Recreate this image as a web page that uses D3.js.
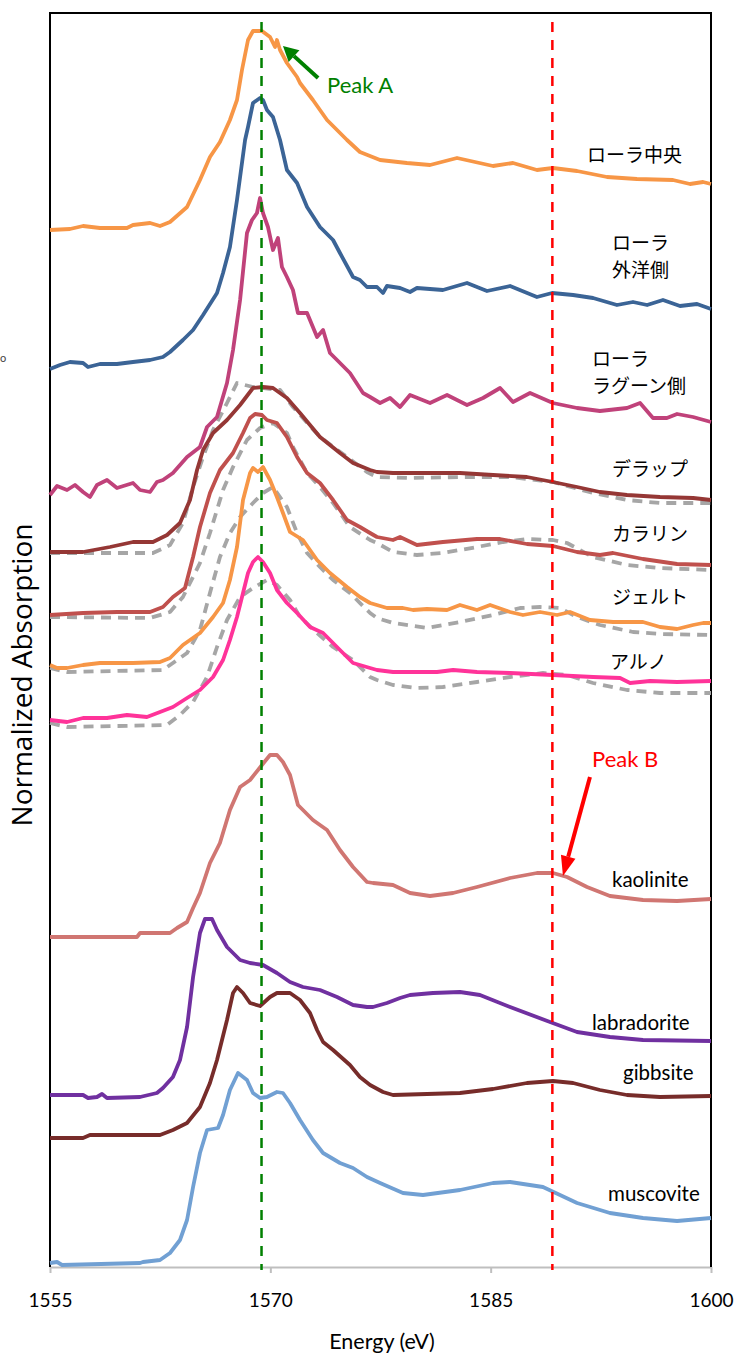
<!DOCTYPE html>
<html>
<head>
<meta charset="utf-8">
<script src="https://cdn.jsdelivr.net/npm/d3@7"></script>
<style>
  body { margin: 0; background: #fff; }
  svg text { font-family: Lato, "Liberation Sans", sans-serif; }
  .jp { font-family: "Noto Sans CJK JP", sans-serif; }
</style>
</head>
<body>
<div id="chart"></div>
<script>
// Energy axis ticks (eV)
const xTicks = [1555, 1570, 1585, 1600];

// Spectra, stacked with offsets: [energy (eV), normalized absorption + offset]
const loraCenter = [[1555.0,10.37],[1556.36,10.38],[1557.25,10.41],[1558.40,10.39],[1560.24,10.39],[1560.65,10.42],[1561.81,10.44],[1562.49,10.41],[1563.17,10.45],[1564.33,10.60],[1565.21,10.87],[1565.89,11.10],[1566.57,11.25],[1567.25,11.47],[1567.73,11.67],[1568.07,11.97],[1568.48,12.27],[1568.82,12.36],[1569.43,12.36],[1569.98,12.30],[1570.32,12.20],[1570.45,12.27],[1570.66,12.17],[1571.13,12.04],[1571.82,11.90],[1572.02,11.84],[1572.90,11.67],[1573.86,11.47],[1575.22,11.27],[1576.10,11.15],[1577.47,11.07],[1579.30,11.04],[1580.87,11.02],[1582.71,11.09],[1585.16,11.01],[1586.52,11.04],[1588.15,10.97],[1589.24,10.99],[1590.88,10.96],[1592.92,10.90],[1594.96,10.88],[1597.41,10.87],[1598.57,10.83],[1599.46,10.85],[1600,10.83]];

const loraOcean = [[1555.0,8.98],[1555.68,9.02],[1556.36,9.05],[1557.25,9.04],[1557.59,9.00],[1558.40,9.03],[1559.56,9.03],[1560.65,9.05],[1561.81,9.07],[1562.69,9.10],[1563.17,9.15],[1564.05,9.27],[1564.74,9.37],[1565.42,9.52],[1566.37,9.74],[1566.78,9.94],[1567.25,10.20],[1567.73,10.67],[1568.28,11.27],[1568.48,11.40],[1568.82,11.64],[1569.30,11.69],[1569.50,11.67],[1569.77,11.57],[1570.18,11.50],[1570.66,11.27],[1571.13,10.97],[1571.82,10.84],[1572.50,10.60],[1573.38,10.40],[1574.27,10.27],[1574.74,10.14],[1575.63,9.90],[1576.10,9.87],[1576.58,9.80],[1577.26,9.80],[1577.67,9.74],[1577.94,9.81],[1578.83,9.79],[1579.51,9.75],[1579.98,9.79],[1581.75,9.77],[1583.39,9.84],[1584.75,9.76],[1586.32,9.81],[1588.15,9.70],[1589.18,9.74],[1590.61,9.72],[1591.97,9.69],[1593.60,9.62],[1594.69,9.65],[1595.65,9.62],[1596.73,9.67],[1597.89,9.61],[1599.05,9.63],[1600,9.58]];

const loraLagoon = [[1555.0,7.72],[1555.48,7.81],[1556.16,7.77],[1556.70,7.82],[1557.25,7.75],[1557.72,7.70],[1558.20,7.82],[1558.88,7.87],[1559.56,7.79],[1560.65,7.84],[1561.13,7.77],[1561.81,7.75],[1562.28,7.85],[1562.69,7.87],[1563.37,7.94],[1564.33,8.10],[1565.21,8.20],[1565.69,8.40],[1566.37,8.50],[1567.05,8.84],[1567.46,9.17],[1567.94,9.67],[1568.41,10.34],[1568.75,10.47],[1569.09,10.54],[1569.30,10.69],[1569.50,10.54],[1569.84,10.40],[1570.18,10.17],[1570.52,10.29],[1570.79,10.00],[1571.13,9.90],[1571.54,9.77],[1571.88,9.54],[1572.50,9.54],[1573.18,9.30],[1573.59,9.37],[1574.06,9.14],[1574.54,9.07],[1575.42,8.94],[1576.31,8.74],[1576.79,8.70],[1577.47,8.64],[1578.15,8.69],[1578.83,8.60],[1579.51,8.72],[1580.87,8.64],[1582.03,8.72],[1583.39,8.62],[1584.48,8.69],[1585.64,8.79],[1586.52,8.65],[1587.68,8.74],[1589.24,8.64],[1590.88,8.59],[1592.44,8.56],[1594.28,8.59],[1595.17,8.64],[1596.05,8.49],[1597.00,8.49],[1597.69,8.53],[1598.78,8.50],[1600,8.45]];

const delap = [[1555.0,7.15],[1557.25,7.15],[1559.08,7.20],[1560.65,7.25],[1562.01,7.25],[1562.97,7.32],[1563.85,7.44],[1564.53,7.67],[1565.01,7.97],[1565.42,8.17],[1566.10,8.34],[1567.05,8.47],[1567.94,8.62],[1568.82,8.79],[1569.50,8.80],[1570.18,8.79],[1571.13,8.69],[1572.02,8.54],[1573.38,8.30],[1574.74,8.14],[1575.63,8.04],[1576.79,7.97],[1577.26,7.95],[1578.35,7.94],[1580.67,7.94],[1582.91,7.94],[1585.16,7.92],[1587.47,7.90],[1589.24,7.85],[1590.88,7.80],[1592.44,7.75],[1594.28,7.72],[1596.53,7.70],[1598.78,7.69],[1600,7.67]];
const delapRef = [[1555.0,7.14],[1562.01,7.14],[1563.17,7.22],[1564.05,7.44],[1564.74,7.80],[1565.42,8.10],[1566.10,8.37],[1567.05,8.64],[1567.73,8.84],[1568.82,8.80],[1570.66,8.77],[1571.54,8.60],[1573.38,8.30],[1575.22,8.10],[1576.58,7.95],[1577.26,7.90],[1579.51,7.89],[1582.91,7.90],[1586.32,7.90],[1589.24,7.85],[1591.97,7.74],[1594.28,7.67],[1596.53,7.64],[1600,7.64]];

const karalin = [[1555.0,6.52],[1557.25,6.54],[1559.56,6.55],[1561.81,6.55],[1562.69,6.60],[1563.37,6.70],[1564.19,6.79],[1564.74,7.10],[1565.21,7.40],[1565.89,7.74],[1566.57,7.97],[1567.46,8.14],[1568.14,8.34],[1568.62,8.49],[1568.96,8.53],[1569.43,8.52],[1569.77,8.47],[1570.45,8.44],[1571.13,8.30],[1571.82,8.10],[1572.50,7.94],[1573.38,7.84],[1574.27,7.67],[1575.22,7.47],[1576.10,7.40],[1576.79,7.34],[1577.26,7.30],[1578.35,7.27],[1578.83,7.30],[1579.98,7.22],[1581.75,7.25],[1584.07,7.28],[1585.64,7.28],[1587.47,7.23],[1589.24,7.21],[1590.88,7.15],[1592.44,7.12],[1593.33,7.14],[1595.37,7.08],[1597.69,7.03],[1600,7.02]];
const karalinRef = [[1555.0,6.50],[1561.81,6.49],[1563.17,6.55],[1564.05,6.70],[1565.21,7.04],[1565.89,7.34],[1566.78,7.77],[1567.46,8.00],[1568.41,8.27],[1569.30,8.39],[1570.18,8.44],[1571.13,8.34],[1571.54,8.20],[1572.50,7.94],[1573.38,7.80],[1574.27,7.64],[1575.42,7.40],[1576.79,7.27],[1577.26,7.24],[1578.35,7.15],[1579.98,7.12],[1581.75,7.14],[1584.07,7.20],[1585.84,7.25],[1587.47,7.28],[1589.24,7.27],[1590.20,7.24],[1591.97,7.10],[1594.28,7.02],[1596.53,6.99],[1600,6.97]];

const jeldrik = [[1555.0,6.02],[1555.48,5.99],[1556.16,5.99],[1557.25,6.02],[1558.40,6.04],[1560.65,6.04],[1562.49,6.05],[1563.17,6.09],[1564.05,6.22],[1565.21,6.34],[1566.10,6.50],[1566.78,6.64],[1567.25,6.87],[1567.73,7.20],[1568.14,7.67],[1568.62,7.94],[1568.82,7.99],[1569.16,7.95],[1569.50,8.00],[1569.98,7.87],[1570.45,7.70],[1570.86,7.54],[1571.34,7.35],[1572.22,7.27],[1573.18,7.07],[1574.06,6.94],[1575.22,6.80],[1576.10,6.70],[1576.79,6.64],[1577.94,6.59],[1579.03,6.59],[1579.71,6.57],[1580.67,6.58],[1582.03,6.57],[1582.91,6.62],[1584.07,6.57],[1584.96,6.62],[1586.32,6.55],[1587.20,6.52],[1588.36,6.55],[1589.52,6.52],[1590.40,6.55],[1591.76,6.47],[1593.33,6.45],[1595.37,6.45],[1596.53,6.40],[1597.69,6.38],[1598.78,6.42],[1599.46,6.44],[1600,6.44]];
const jeldrikRef = [[1555.0,5.99],[1556.16,5.95],[1562.69,5.97],[1563.37,6.04],[1564.33,6.14],[1565.21,6.37],[1565.89,6.74],[1566.57,7.10],[1567.25,7.34],[1567.94,7.50],[1568.82,7.64],[1569.50,7.74],[1570.18,7.80],[1571.13,7.60],[1571.82,7.34],[1572.50,7.14],[1573.38,7.00],[1574.27,6.87],[1575.42,6.74],[1576.79,6.54],[1577.26,6.49],[1578.35,6.44],[1580.67,6.39],[1582.91,6.45],[1585.16,6.52],[1587.00,6.59],[1588.36,6.60],[1589.72,6.59],[1590.88,6.50],[1592.44,6.42],[1594.69,6.35],[1596.53,6.33],[1600,6.32]];

const arno = [[1555.0,5.47],[1556.16,5.45],[1557.25,5.49],[1558.88,5.49],[1560.24,5.52],[1561.60,5.50],[1562.49,5.55],[1563.37,5.60],[1564.33,5.69],[1565.21,5.77],[1566.10,5.90],[1566.78,6.07],[1567.25,6.27],[1567.73,6.50],[1568.14,6.74],[1568.48,6.94],[1568.82,7.05],[1569.16,7.10],[1569.50,7.05],[1569.98,6.94],[1570.45,6.77],[1571.13,6.64],[1571.82,6.54],[1572.70,6.40],[1573.59,6.34],[1574.74,6.17],[1575.63,6.04],[1576.79,5.99],[1577.26,5.97],[1578.35,5.95],[1581.35,5.95],[1582.44,5.97],[1584.07,5.95],[1586.32,5.94],[1589.24,5.92],[1591.97,5.90],[1593.81,5.89],[1594.49,5.84],[1595.85,5.86],[1597.69,5.85],[1600,5.86]];
const arnoRef = [[1555.0,5.44],[1556.16,5.40],[1562.97,5.42],[1563.85,5.52],[1564.74,5.65],[1565.69,5.90],[1566.37,6.20],[1567.05,6.47],[1567.94,6.70],[1568.82,6.79],[1569.77,6.87],[1570.45,6.82],[1571.34,6.67],[1572.02,6.50],[1573.18,6.34],[1574.27,6.20],[1575.63,6.07],[1576.79,5.90],[1577.26,5.87],[1578.35,5.82],[1579.98,5.79],[1581.75,5.80],[1584.07,5.85],[1586.32,5.90],[1588.56,5.94],[1590.20,5.92],[1591.97,5.84],[1594.28,5.77],[1596.53,5.74],[1600,5.74]];

const kaolinite = [[1555.0,3.30],[1560.92,3.30],[1561.13,3.34],[1563.17,3.34],[1563.65,3.39],[1564.33,3.45],[1564.74,3.59],[1565.21,3.74],[1565.89,4.04],[1566.57,4.24],[1567.25,4.57],[1567.94,4.80],[1568.62,4.87],[1569.43,5.02],[1569.98,5.12],[1570.45,5.12],[1570.86,5.05],[1571.34,4.92],[1571.88,4.62],[1572.90,4.47],[1573.86,4.37],[1574.74,4.17],[1575.63,4.00],[1576.58,3.85],[1576.99,3.84],[1578.35,3.82],[1579.51,3.74],[1580.87,3.71],[1582.44,3.74],[1584.07,3.80],[1586.32,3.89],[1588.15,3.94],[1589.24,3.94],[1590.20,3.90],[1591.56,3.80],[1593.12,3.71],[1595.37,3.67],[1597.69,3.66],[1600,3.68]];

const labradorite = [[1555.0,1.72],[1557.25,1.72],[1557.59,1.69],[1558.20,1.70],[1558.54,1.73],[1558.88,1.69],[1561.13,1.70],[1562.28,1.74],[1562.69,1.79],[1563.37,1.90],[1563.85,2.07],[1564.33,2.40],[1564.74,2.90],[1565.21,3.34],[1565.55,3.48],[1566.03,3.48],[1566.37,3.37],[1567.05,3.20],[1567.94,3.07],[1568.62,3.04],[1569.50,3.02],[1570.45,2.94],[1571.34,2.85],[1572.22,2.80],[1573.38,2.77],[1574.54,2.70],[1575.63,2.62],[1576.58,2.60],[1576.99,2.60],[1577.94,2.64],[1578.83,2.69],[1579.51,2.72],[1581.07,2.74],[1582.91,2.75],[1584.27,2.72],[1586.32,2.60],[1589.04,2.45],[1590.88,2.35],[1593.12,2.30],[1595.37,2.27],[1600,2.26]];

const gibbsite = [[1555.0,1.29],[1557.25,1.29],[1557.72,1.32],[1562.49,1.32],[1563.37,1.37],[1564.33,1.44],[1565.21,1.60],[1565.89,1.84],[1566.37,2.07],[1567.05,2.47],[1567.46,2.74],[1567.73,2.80],[1568.14,2.74],[1568.62,2.64],[1569.30,2.61],[1569.98,2.70],[1570.45,2.74],[1571.34,2.74],[1572.02,2.67],[1572.70,2.54],[1573.18,2.37],[1573.59,2.25],[1574.27,2.17],[1575.42,2.02],[1576.10,1.90],[1576.79,1.82],[1577.67,1.75],[1578.35,1.72],[1580.67,1.73],[1582.91,1.74],[1585.16,1.78],[1587.47,1.84],[1589.24,1.86],[1590.61,1.84],[1592.44,1.77],[1594.28,1.72],[1596.53,1.70],[1600,1.71]];

const muscovite = [[1555.0,0.04],[1555.48,0.05],[1555.82,0.02],[1561.13,0.04],[1561.33,0.05],[1562.49,0.07],[1563.17,0.14],[1563.85,0.27],[1564.33,0.47],[1564.74,0.80],[1565.21,1.14],[1565.69,1.37],[1566.44,1.39],[1566.78,1.52],[1567.25,1.77],[1567.80,1.94],[1568.41,1.87],[1568.82,1.74],[1569.30,1.69],[1569.77,1.70],[1570.45,1.75],[1570.86,1.74],[1571.34,1.64],[1572.02,1.47],[1572.90,1.27],[1573.59,1.14],[1574.74,1.04],[1575.63,0.99],[1576.58,0.90],[1577.47,0.84],[1579.03,0.74],[1580.39,0.72],[1582.91,0.77],[1585.16,0.84],[1586.32,0.85],[1588.56,0.80],[1590.88,0.64],[1593.12,0.54],[1595.37,0.49],[1597.69,0.46],[1600,0.49]];

// Peak positions (eV)
const peakA = 1569.4;
const peakB = 1589.2;

// Curve labels: [text lines, energy, absorption of first baseline]
const sampleLabels = [
    [['ローラ中央'], 1591.56, 11.05],
    [['ローラ', '外洋側'], 1593.26, 10.17],
    [['ローラ', 'ラグーン側'], 1591.9, 9.01],
    [['デラップ'], 1593.26, 7.91],
    [['カラリン'], 1593.26, 7.26],
    [['ジェルト'], 1593.26, 6.63],
    [['アルノ'], 1593.12, 5.98]
];
const mineralLabels = [
    ['kaolinite', 1593.26, 3.80],
    ['labradorite', 1591.9, 2.37],
    ['gibbsite', 1594.01, 1.87],
    ['muscovite', 1592.99, 0.66]
];

const W = 736, H = 1357;
const margin = { top: 13, right: 25, bottom: 90, left: 50 };

const svg = d3.select('#chart').append('svg')
    .attr('width', W)
    .attr('height', H);

const x = d3.scaleLinear()
    .domain([1555, 1600])
    .range([margin.left, W - margin.right]);

const y = d3.scaleLinear()
    .domain([0, 12.54])
    .range([H - margin.bottom, margin.top]);

// series table: reference (grey dashed) first so colored lines sit on top
const series = [
    { data: delapRef, color: '#a6a6a6', dash: '10,7' },
    { data: karalinRef, color: '#a6a6a6', dash: '10,7' },
    { data: jeldrikRef, color: '#a6a6a6', dash: '10,7' },
    { data: arnoRef, color: '#a6a6a6', dash: '10,7' },
    { data: loraCenter, color: '#f79646' },
    { data: loraOcean, color: '#3b6496' },
    { data: loraLagoon, color: '#c0427a' },
    { data: delap, color: '#953735' },
    { data: karalin, color: '#c0504d' },
    { data: jeldrik, color: '#f79646' },
    { data: arno, color: '#ff3399' },
    { data: kaolinite, color: '#d07672' },
    { data: labradorite, color: '#7030a0' },
    { data: gibbsite, color: '#772c2a' },
    { data: muscovite, color: '#71a0d3' }
];

const line = d3.line()
    .x(d => x(d[0]))
    .y(d => y(d[1]));

// axis at the bottom (grey)
const xAxis = svg.append('g')
    .attr('transform', `translate(0,${H - margin.bottom})`)
    .call(d3.axisBottom(x).tickValues(xTicks).tickFormat(d3.format('d'))
        .tickSize(6).tickSizeOuter(0).tickPadding(21));
xAxis.select('.domain').attr('stroke', '#bfbfbf').attr('stroke-width', 2);
xAxis.selectAll('.tick line').attr('stroke', '#bfbfbf').attr('stroke-width', 2);
xAxis.selectAll('.tick text')
    .attr('fill', '#000')
    .style('font-family', 'Lato, sans-serif')
    .style('font-size', '19px');

// frame: left, top, right in black
svg.append('path')
    .attr('d', `M${x(1555)},${y(0)}V${y(12.54)}H${x(1600)}V${y(0)}`)
    .attr('fill', 'none')
    .attr('stroke', '#000')
    .attr('stroke-width', 2);

// spectra
svg.append('g').selectAll('path')
    .data(series)
    .enter().append('path')
    .attr('d', d => line(d.data))
    .attr('fill', 'none')
    .attr('stroke', d => d.color)
    .attr('stroke-width', 3.8)
    .attr('stroke-dasharray', d => d.dash || null)
    .attr('stroke-linejoin', 'round');

// peak markers
svg.append('line')
    .attr('x1', x(peakA)).attr('x2', x(peakA))
    .attr('y1', y(12.45)).attr('y2', y(-0.03))
    .attr('stroke', '#008000').attr('stroke-width', 2.5)
    .attr('stroke-dasharray', '10,8');
svg.append('line')
    .attr('x1', x(peakB)).attr('x2', x(peakB))
    .attr('y1', y(12.45)).attr('y2', y(-0.03))
    .attr('stroke', '#ff0000').attr('stroke-width', 2.5)
    .attr('stroke-dasharray', '10,8');

// arrows
function arrow(from, to, color, headLen, headW) {
    const x1 = x(from[0]), y1 = y(from[1]);
    const x2 = x(to[0]), y2 = y(to[1]);
    const a = Math.atan2(y2 - y1, x2 - x1);
    const bx = x2 - headLen * Math.cos(a), by = y2 - headLen * Math.sin(a);
    const px = -Math.sin(a) * headW / 2, py = Math.cos(a) * headW / 2;
    svg.append('line')
        .attr('x1', x1).attr('y1', y1)
        .attr('x2', bx).attr('y2', by)
        .attr('stroke', color).attr('stroke-width', 4);
    svg.append('path')
        .attr('d', `M${x2},${y2}L${bx + px},${by + py}L${bx - px},${by - py}Z`)
        .attr('fill', color);
}
arrow([1573.25, 11.89], [1570.86, 12.21], '#008000', 15, 16);
arrow([1591.76, 4.90], [1589.92, 3.91], '#ff0000', 20, 15);

svg.append('text')
    .attr('x', x(1573.86)).attr('y', y(11.74))
    .attr('fill', '#008000')
    .style('font-size', '22px')
    .text('Peak A');
svg.append('text')
    .attr('x', x(1591.9)).attr('y', y(5.0))
    .attr('fill', '#ff0000')
    .style('font-size', '22px')
    .text('Peak B');

// sample labels (Japanese)
sampleLabels.forEach(function(l) {
    const t = svg.append('text')
        .attr('class', 'jp')
        .attr('x', x(l[1]))
        .attr('y', y(l[2]))
        .style('font-size', '19px')
        .attr('fill', '#000');
    l[0].forEach(function(s, i) {
        t.append('tspan')
            .attr('x', x(l[1]))
            .attr('dy', i === 0 ? 0 : 27)
            .text(s);
    });
});

// mineral standards
svg.selectAll('.mineral')
    .data(mineralLabels)
    .enter().append('text')
    .attr('class', 'mineral')
    .attr('x', d => x(d[1]))
    .attr('y', d => y(d[2]))
    .style('font-size', '20.5px')
    .attr('fill', '#000')
    .text(d => d[0]);

// axis titles
svg.append('text')
    .attr('x', x(1577.6))
    .attr('y', 1349)
    .attr('text-anchor', 'middle')
    .style('font-size', '21.5px')
    .text('Energy (eV)');

svg.append('text')
    .attr('transform', 'translate(32,675) rotate(-90)')
    .attr('text-anchor', 'middle')
    .style('font-family', '"Open Sans", sans-serif')
    .style('font-size', '28px')
    .text('Normalized Absorption');

// stray mark at the left edge
svg.append('text')
    .attr('x', 0).attr('y', 362)
    .style('font-size', '11px')
    .attr('fill', '#444')
    .text('o');
</script>
</body>
</html>
